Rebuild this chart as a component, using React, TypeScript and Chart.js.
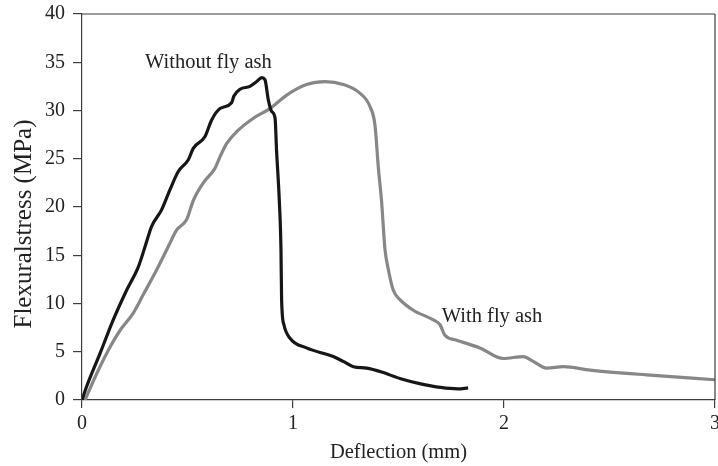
import React, { useEffect, useRef } from "react";
import { Chart, registerables } from "chart.js";

Chart.register(...registerables);

// Without fly ash (black)
const noAshX = [0, 0.022, 0.085, 0.148, 0.212, 0.267, 0.299, 0.33, 0.377, 0.417, 0.457, 0.504, 0.528, 0.583, 0.614, 0.654, 0.709, 0.72, 0.749, 0.796, 0.828, 0.852, 0.867, 0.883, 0.899, 0.915, 0.922, 0.935, 0.943, 0.946, 0.957, 0.986, 1.064, 1.191, 1.238, 1.286, 1.349, 1.42, 1.51, 1.6, 1.7, 1.78, 1.83];
const noAshY = [0, 1.4, 4.8, 8.3, 11.4, 13.8, 15.9, 18.0, 19.7, 21.8, 23.7, 24.9, 26.1, 27.3, 29.0, 30.2, 30.8, 31.5, 32.2, 32.5, 33.0, 33.4, 33.2, 31.1, 29.9, 29.2, 25.9, 20.7, 15.6, 10.4, 7.8, 6.4, 5.4, 4.5, 4.0, 3.45, 3.3, 2.9, 2.2, 1.7, 1.3, 1.15, 1.25];

// With fly ash (grey)
const ashX = [0.014, 0.07, 0.133, 0.18, 0.243, 0.29, 0.354, 0.409, 0.448, 0.496, 0.528, 0.575, 0.63, 0.654, 0.686, 0.733, 0.812, 0.891, 0.97, 1.064, 1.152, 1.238, 1.317, 1.365, 1.389, 1.404, 1.42, 1.436, 1.452, 1.475, 1.507, 1.57, 1.665, 1.697, 1.72, 1.775, 1.886, 1.997, 2.091, 2.138, 2.202, 2.281, 2.408, 2.676, 3.0];
const ashY = [0, 2.75, 5.5, 7.2, 9.0, 10.9, 13.5, 15.9, 17.6, 18.7, 20.7, 22.5, 24.0, 25.2, 26.6, 27.8, 29.2, 30.2, 31.6, 32.7, 33.0, 32.7, 31.8, 30.4, 28.4, 24.2, 20.5, 15.6, 13.5, 11.4, 10.4, 9.3, 8.3, 7.8, 6.7, 6.2, 5.4, 4.3, 4.5, 4.0, 3.3, 3.45, 3.1, 2.6, 2.1];

const xTitle = "Deflection (mm)";
const yTitle = "Flexuralstress (MPa)";
const labelNoAsh = { text: "Without fly ash", x: 0.299, y: 34.4 };
const labelAsh = { text: "With fly ash", x: 1.705, y: 8.1 };

const FONT = "'Liberation Serif', 'Times New Roman', serif";
const AXIS = "#3c3c3c";

export default function App() {
  const ref = useRef<HTMLCanvasElement | null>(null);

  useEffect(() => {
    document.body.style.margin = "0";
    const canvas = ref.current;
    if (!canvas) return;

    const deco = {
      id: "deco",
      afterDraw(chart: any) {
        const ctx = chart.ctx;
        const { left, top, right, bottom } = chart.chartArea;
        const xs = chart.scales.x;
        const ys = chart.scales.y;
        ctx.save();
        ctx.strokeStyle = AXIS;
        ctx.lineWidth = 1.2;
        ctx.beginPath();
        ctx.moveTo(left, top);
        ctx.lineTo(right, top);
        ctx.moveTo(right, top);
        ctx.lineTo(right, bottom);
        ctx.stroke();

        ctx.fillStyle = "#222";
        ctx.font = `20.5px ${FONT}`;
        ctx.textAlign = "left";
        ctx.textBaseline = "alphabetic";
        for (const l of [labelNoAsh, labelAsh]) {
          ctx.fillText(l.text, xs.getPixelForValue(l.x), ys.getPixelForValue(l.y));
        }

        ctx.textAlign = "center";
        ctx.font = `20.5px ${FONT}`;
        ctx.fillText(xTitle, (left + right) / 2, 458);

        ctx.translate(31, 224);
        ctx.rotate(-Math.PI / 2);
        ctx.font = `25px ${FONT}`;
        ctx.fillText(yTitle, 0, 0);
        ctx.restore();
      },
    };

    const zeroPad = (s: any) => {
      s.paddingLeft = 0;
      s.paddingRight = 0;
      s.paddingTop = 0;
      s.paddingBottom = 0;
    };

    const chart = new Chart(canvas, {
      type: "line",
      data: {
        datasets: [
          {
            label: "Without fly ash",
            data: noAshX.map((x, i) => ({ x, y: noAshY[i] })),
            borderColor: "#161616",
            borderWidth: 3.2,
            pointRadius: 0,
            cubicInterpolationMode: "monotone",
            fill: false,
          },
          {
            label: "With fly ash",
            data: ashX.map((x, i) => ({ x, y: ashY[i] })),
            borderColor: "#878787",
            borderWidth: 3.2,
            pointRadius: 0,
            cubicInterpolationMode: "monotone",
            fill: false,
          },
        ],
      },
      options: {
        animation: false,
        responsive: true,
        maintainAspectRatio: false,
        layout: { autoPadding: false, padding: { left: 0, top: 14, right: 3, bottom: 0 } },
        plugins: { legend: { display: false }, tooltip: { enabled: false } },
        scales: {
          x: {
            type: "linear",
            min: 0,
            max: 3,
            afterFit: (s: any) => {
              s.height = 66;
              zeroPad(s);
            },
            ticks: {
              stepSize: 1,
              color: "#222",
              font: { family: FONT, size: 20 },
              padding: 4,
              maxRotation: 0,
            },
            grid: { drawOnChartArea: false, drawTicks: true, tickLength: 8, tickColor: AXIS, lineWidth: 1.2 },
            border: { display: true, color: AXIS, width: 1.2 },
            title: { display: false },
          },
          y: {
            min: 0,
            max: 40,
            afterFit: (s: any) => {
              s.width = 82;
              zeroPad(s);
            },
            ticks: {
              stepSize: 5,
              color: "#222",
              font: { family: FONT, size: 20 },
              padding: 8,
            },
            grid: { drawOnChartArea: false, drawTicks: true, tickLength: 9, tickColor: AXIS, lineWidth: 1.2 },
            border: { display: true, color: AXIS, width: 1.2 },
            title: { display: false },
          },
        },
      },
      plugins: [deco],
    } as any);

    return () => chart.destroy();
  }, []);

  return (
    <div style={{ width: 718, height: 466, position: "relative" }}>
      <canvas ref={ref} />
    </div>
  );
}
